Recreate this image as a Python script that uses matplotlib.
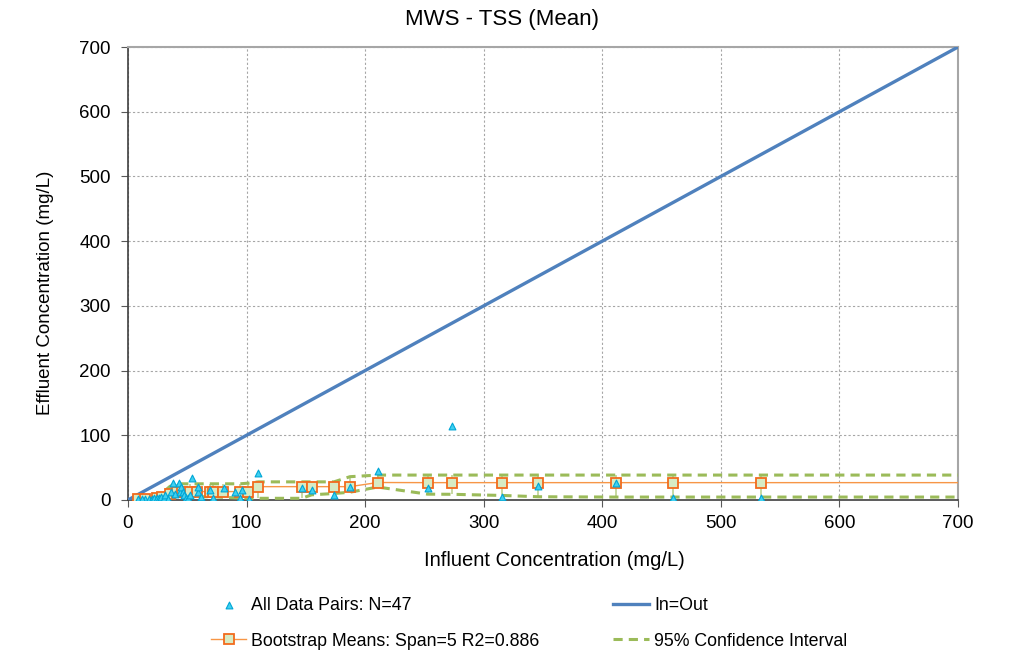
import numpy as np
import matplotlib.pyplot as plt

plt.rcParams["font.family"] = ["Liberation Sans", "DejaVu Sans"]

# All data pairs (influent, effluent), mg/L
pairs_in = [8.7, 14.3, 12, 18, 20, 22.2, 24.2, 26.4, 27.8, 30, 31.2, 34, 36.3, 37.7,
            40, 43.3, 43.9, 45, 46.7, 47.5, 48.9, 50.9, 52, 53.7, 58.8, 59.3, 62,
            69.2, 72, 81, 90, 94.5, 95.9, 102, 110, 146.5, 155, 173.7, 187.2,
            210.6, 252.7, 273, 315.7, 346, 411.3, 459.4, 533.6]
pairs_out = [1, 1, 1, 2, 1, 2.6, 3.6, 2.6, 5.1, 3, 7.2, 1, 12.9, 26.8,
             10, 25.8, 12.9, 20, 12.9, 7.7, 3.6, 3.6, 8, 34.5, 11.8, 20.6, 5,
             15.5, 2.6, 18, 12, 2.6, 15.5, 1, 42.3, 18, 15.5, 7.2, 20.6,
             45.3, 18, 114.4, 5.1, 22.1, 25.8, 2.6, 2.6]

# Bootstrap means and 95% confidence bounds
boot_x = [8.2, 14.3, 24.2, 28.4, 35.4, 41, 45.3, 52.3, 57.9, 69, 72, 80.4, 94.5,
          101.5, 110, 146.5, 155, 173.7, 187.2, 210.6, 252.7, 273, 315.7, 346,
          411.3, 459.4, 533.6]
boot_mean = [1, 1, 2.6, 5, 10, 13, 13, 13, 13, 13, 13, 13, 13,
             13, 20.6, 20.6, 20.6, 20.6, 20.6, 27, 26.8, 26.8, 26.8, 26.8,
             26.8, 26.8, 26.8]
ci_lo = [0, 0, 0, 1, 3, 5, 5, 5, 5, 5, 5, 4, 3,
         2.6, 2.6, 2.6, 8, 10, 12, 20, 9, 8.8, 7, 5,
         4.5, 4.5, 4.5]
ci_hi = [1, 2, 5, 10, 21, 25, 25, 25, 25, 25, 25, 25, 25,
         26, 28, 28, 28, 28, 36, 38.5, 38.5, 38.5, 38.5, 38.5,
         38.5, 38.5, 38.5]
x_end = 700

fig = plt.figure(figsize=(10.1, 6.54), dpi=100)
ax = fig.add_axes([0.1267, 0.2355, 0.8218, 0.6926])

# error bars spanning the confidence interval
ax.vlines(boot_x, ci_lo, ci_hi, color="#C3D69B", lw=1.3, zorder=2)

inout, = ax.plot([0, x_end], [0, x_end], color="#4F81BD", lw=2.4, zorder=3)

ax.plot(boot_x + [x_end], boot_mean + [boot_mean[-1]], color="#F79646", lw=1,
        zorder=4)
ax.plot(boot_x, boot_mean, ls="none", marker="s", ms=7, mfc="#D7EBC4",
        mec="#F26B1D", mew=1.3, zorder=5)
boot_handle, = ax.plot([], [], color="#F79646", lw=1, marker="s", ms=7,
                       mfc="#D7EBC4", mec="#F26B1D", mew=1.3)

ax.plot(boot_x + [x_end], ci_lo + [ci_lo[-1]], color="#9BBB59", lw=2.2,
        ls=(0, (3, 2)), zorder=3)
ci_handle, = ax.plot(boot_x + [x_end], ci_hi + [ci_hi[-1]], color="#9BBB59",
                     lw=2.2, ls=(0, (3, 2)), zorder=3)

pts = ax.scatter(pairs_in, pairs_out, marker="^", s=24, c="#3FD0F0",
                 edgecolors="#00A6D6", linewidths=0.8, zorder=6)

ax.set_xlim(0, 700)
ax.set_ylim(0, 700)
ax.set_xticks(np.arange(0, 701, 100))
ax.set_yticks(np.arange(0, 701, 100))
ax.tick_params(labelsize=13.5, direction="out", length=5, pad=6, color="#595959")
ax.tick_params(axis="y", pad=7.5)
ax.grid(True, color="#A6A6A6", ls=(0, (2, 2)), lw=0.8)
ax.set_axisbelow(True)
for s in ["left", "bottom"]:
    ax.spines[s].set_color("#404040")
    ax.spines[s].set_linewidth(1.2)
for s in ["top", "right"]:
    ax.spines[s].set_color("#A6A6A6")
    ax.spines[s].set_linewidth(1.5)

fig.text(0.497, 1 - 19 / 654, "MWS - TSS (Mean)", fontsize=16,
         ha="center", va="center")
ax.set_xlabel("Influent Concentration (mg/L)", fontsize=14.5)
ax.xaxis.set_label_coords(0.514, -0.112)
ax.set_ylabel("Effluent Concentration (mg/L)", fontsize=13.5)
ax.yaxis.set_label_coords(-0.089, 0.457)

handles = [pts, boot_handle, inout, ci_handle]
labels = ["All Data Pairs: N=47", "Bootstrap Means: Span=5 R2=0.886",
          "In=Out", "95% Confidence Interval"]
fig.legend(handles, labels, ncol=2, loc="upper left",
           bbox_to_anchor=(202 / 1010, 1 - 588 / 654), borderpad=0,
           frameon=False, fontsize=12.8, handlelength=2.0, handletextpad=0.28,
           columnspacing=4.15, labelspacing=1.05)

fig.savefig("out.png", dpi=100)
